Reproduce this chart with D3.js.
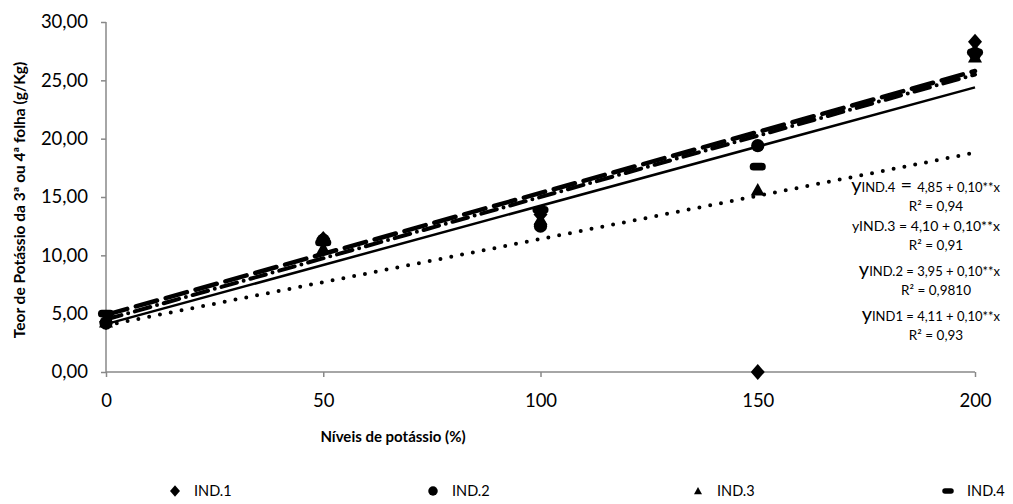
<!DOCTYPE html>
<html>
<head>
<meta charset="utf-8">
<script src="https://cdn.jsdelivr.net/npm/d3@7"></script>
<style>
  body { margin: 0; background: #fff; }
  svg { display: block; font-family: Lato, "Open Sans", sans-serif; }
</style>
</head>
<body>
<svg id="chart" width="1013" height="504"></svg>
<script>
// data
var levels = [0, 50, 100, 150, 200];
var seriesNames = ["IND.1", "IND.2", "IND.3", "IND.4"];
var ind1 = [4.3, 11.4, 13.5, 0.0, 28.3];
var ind2 = [4.2, 11.3, 12.5, 19.4, 27.3];
var ind3 = [4.3, 10.6, 13.1, 15.6, 27.0];
var ind4 = [5.0, 11.1, 13.9, 17.6, 27.4];
// trendline values at x = 0 and x = 200, as drawn
var trendStart = [4.0, 4.1, 4.5, 4.9];
var trendEnd = [18.8, 24.4, 25.5, 25.8];
var yTicks = [0, 5, 10, 15, 20, 25, 30];
var xTicks = [0, 50, 100, 150, 200];
var equations = [
  ["IND.4", " = ", "4,85 + 0,10**x", "R² = 0,94"],
  ["IND.3", "", " = 4,10 + 0,10**x", "R² = 0,91"],
  ["IND.2", "", " = 3,95 + 0,10**x", "R² = 0,9810"],
  ["IND1", "", " = 4,11 + 0,10**x", "R² = 0,93"]
];

var svg = d3.select("#chart");
var x = d3.scaleLinear().domain([0, 200]).range([106, 975]);
var y = d3.scaleLinear().domain([0, 30]).range([372, 22]);

// axes
var yAxis = d3.axisLeft(y).tickValues(yTicks).tickSize(5).tickPadding(13)
    .tickFormat(function(d) { return d3.format(".2f")(d).replace(".", ","); });
var gy = svg.append("g").attr("transform", "translate(106,0)").call(yAxis);
var xAxis = d3.axisBottom(x).tickValues(xTicks).tickSize(5).tickPadding(17);
var gx = svg.append("g").attr("transform", "translate(0,372)").call(xAxis);
[gx, gy].forEach(function(g) {
  g.select(".domain").attr("stroke", "#888").attr("stroke-width", 1.5);
  g.selectAll(".tick line").attr("stroke", "#888").attr("stroke-width", 1.5);
  g.selectAll("text").attr("fill", "#000").style("font-size", "18.5px")
    .style("font-family", "Lato, sans-serif");
});
gx.select(".domain").attr("d", "M106,0H975");
gy.select(".domain").attr("d", "M0,22V372");

// trendlines
var dashes = ["0 11", null, "16 7 0 7", "22 9"];
var widths = [4, 2.5, 4, 4.5];
trendStart.forEach(function(s, i) {
  svg.append("line")
    .attr("x1", x(0)).attr("y1", y(s))
    .attr("x2", x(200)).attr("y2", y(trendEnd[i]))
    .attr("stroke", "#000")
    .attr("stroke-width", widths[i])
    .attr("stroke-linecap", dashes[i] ? "round" : "butt")
    .attr("stroke-dasharray", dashes[i]);
});

// markers, s = half size
function marker(g, k, s) {
  if (k === 0) g.append("path").attr("d", "M0," + (-s * 1.15) + "L" + s + ",0L0," + (s * 1.15) + "L" + (-s) + ",0Z");
  else if (k === 1) g.append("circle").attr("r", s * 0.95);
  else if (k === 2) g.append("path").attr("d", "M0," + (-s) + "L" + s + "," + (s * 0.8) + "L" + (-s) + "," + (s * 0.8) + "Z");
  else g.append("rect").attr("x", -s * 1.15).attr("y", -s * 0.55).attr("width", s * 2.3).attr("height", s * 1.1).attr("rx", s * 0.55);
}
var allSeries = [ind1, ind2, ind3, ind4];
allSeries.forEach(function(vals, k) {
  svg.append("g").selectAll("g").data(vals).enter().append("g")
    .attr("transform", function(d, i) { return "translate(" + x(levels[i]) + "," + y(d) + ")"; })
    .each(function() { marker(d3.select(this).attr("fill", "#000"), k, 7); });
});

// equations
var eqY = [187, 226, 271, 316];
var ySize = ["20px", "14px", "20px", "20px"];
var smallSize = ["13px", "14px", "13px", "13px"];
equations.forEach(function(e, i) {
  var t = svg.append("text").attr("x", 1000).attr("y", eqY[i] + 5)
    .attr("text-anchor", "end").attr("fill", "#000").style("font-size", smallSize[i]);
  t.append("tspan").text("y").style("font-size", ySize[i]);
  t.append("tspan").text(e[0]);
  if (e[1]) t.append("tspan").text(e[1]).style("font-size", "20px");
  t.append("tspan").text(e[2]);
  svg.append("text").attr("x", 936).attr("y", eqY[i] + 24)
    .attr("text-anchor", "middle").attr("fill", "#000").style("font-size", "13.5px")
    .text(e[3]);
});

// axis titles
svg.append("text")
  .attr("transform", "translate(25,200) rotate(-90)")
  .attr("text-anchor", "middle").style("font-size", "15.5px").style("font-weight", "bold")
  .text("Teor de Potássio da 3ª ou 4ª folha  (g/Kg)");
svg.append("text")
  .attr("x", 393).attr("y", 442)
  .attr("text-anchor", "middle").style("font-size", "15px").style("font-weight", "bold")
  .text("Níveis de potássio (%)");

// legend
var legX = [175, 433, 698, 948];
seriesNames.forEach(function(n, k) {
  var g = svg.append("g").attr("transform", "translate(" + legX[k] + ",491)").attr("fill", "#000");
  marker(g, k, k === 2 ? 4 : 5);
  svg.append("text").attr("x", legX[k] + 19).attr("y", 496)
    .style("font-size", "14.5px").text(n);
});
</script>
</body>
</html>
